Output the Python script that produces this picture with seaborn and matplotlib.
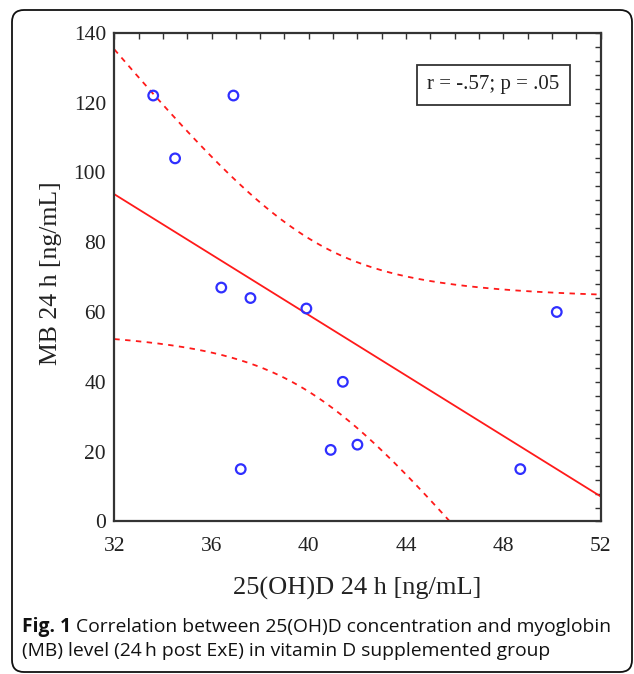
import numpy as np
import pandas as pd
import matplotlib
matplotlib.use("Agg")
import matplotlib.pyplot as plt
import seaborn as sns
from matplotlib.patches import FancyBboxPatch
from matplotlib.ticker import MultipleLocator
from matplotlib.transforms import IdentityTransform

# ---- data ----
vit_d = [33.6, 36.9, 34.5, 36.4, 37.6, 39.9, 41.4, 40.9, 42.0, 37.2, 50.2, 48.7]
mb = [122, 122, 104, 67, 64, 61, 40, 20.5, 22, 15, 60, 15]
x_ticks = [32, 36, 40, 44, 48, 52]
y_ticks = [0, 20, 40, 60, 80, 100, 120, 140]
stat_label = "r = -.57; p = .05"
x_label = "25(OH)D 24 h [ng/mL]"
y_label = "MB 24 h [ng/mL]"
cap_bold = "Fig. 1"
cap_line1 = " Correlation between 25(OH)D concentration and myoglobin"
cap_line2 = "(MB) level (24\u2009h post ExE) in vitamin D supplemented group"
T_CRIT = 2.228  # t(0.975, df=10)

sns.set_theme(style="white")
plt.rcParams["font.family"] = ["Liberation Serif", "DejaVu Serif"]

fig = plt.figure(figsize=(6.34, 6.74), dpi=100)
ax = fig.add_axes([0.1803, 0.2263, 0.7669, 0.7252])

df = pd.DataFrame({"x": vit_d, "y": mb})

# regression line and 95% confidence band of the mean
xa = np.asarray(vit_d, float)
ya = np.asarray(mb, float)
n = len(xa)
slope, intercept = np.polyfit(xa, ya, 1)
resid = ya - (slope * xa + intercept)
s = np.sqrt(np.sum(resid ** 2) / (n - 2))
sxx = np.sum((xa - xa.mean()) ** 2)
xs = np.linspace(x_ticks[0], x_ticks[-1], 300)
fit = slope * xs + intercept
half = T_CRIT * s * np.sqrt(1.0 / n + (xs - xa.mean()) ** 2 / sxx)
lines = pd.DataFrame({"x": xs, "fit": fit, "lo": fit - half, "hi": fit + half})

red = "#ff1a1a"
sns.lineplot(data=lines, x="x", y="fit", ax=ax, color=red, lw=1.3)
sns.lineplot(data=lines, x="x", y="lo", ax=ax, color=red, lw=1.3, linestyle=(0, (3, 3)))
sns.lineplot(data=lines, x="x", y="hi", ax=ax, color=red, lw=1.3, linestyle=(0, (3, 3)))

sns.scatterplot(data=df, x="x", y="y", ax=ax, marker="o", s=48,
                facecolor="none", edgecolor="#2f2fff", linewidth=1.6, zorder=5)

ax.set_xlim(x_ticks[0], x_ticks[-1])
ax.set_ylim(y_ticks[0], y_ticks[-1])
ax.set_xticks(x_ticks)
ax.set_yticks(y_ticks)
ax.xaxis.set_minor_locator(MultipleLocator(1))
ax.yaxis.set_minor_locator(MultipleLocator(4))
ax.tick_params(which="both", direction="in", top=True, right=True,
               color="#333333", width=1.0, labelsize=15.5, labelcolor="#222222")
ax.tick_params(which="both", length=4)
ax.tick_params(axis="y", which="major", pad=6)
ax.tick_params(axis="x", which="major", pad=11)
ax.set_xlabel("")
ax.set_ylabel("")
for sp in ax.spines.values():
    sp.set_color("#333333")
    sp.set_linewidth(1.6)

ax.text(0.779, 0.893, stat_label, transform=ax.transAxes, ha="center", va="center",
        fontsize=15, color="#222222",
        bbox=dict(boxstyle="square,pad=0.5", fc="white", ec="#333333", lw=1.3))

fig.text(0.563, 1 - 588 / 674, x_label, ha="center", va="center", fontsize=19, color="#222222")
fig.text(51 / 634, 1 - 273 / 674, y_label, ha="center", va="center", rotation=90,
         fontsize=18.5, color="#222222")

# caption
cap_font = ["Open Sans", "DejaVu Sans"]
cap_size = 13.9
t_bold = fig.text(0.0347, 1 - 627 / 674, cap_bold, ha="left", va="center", fontsize=cap_size,
                  fontweight="bold", family=cap_font, color="#111111")
fig.canvas.draw()
bb = t_bold.get_window_extent(fig.canvas.get_renderer())
x_after = bb.x1 / fig.bbox.width
fig.text(x_after, 1 - 627 / 674, cap_line1, ha="left", va="center", fontsize=cap_size,
         family=cap_font, color="#111111")
fig.text(0.0347, 1 - 651 / 674, cap_line2, ha="left", va="center", fontsize=cap_size,
         family=cap_font, color="#111111")

# rounded frame around the figure
W, H = fig.bbox.width, fig.bbox.height
frame = FancyBboxPatch((12, 2), 620, H - 12, boxstyle="round,pad=0,rounding_size=12",
                       transform=IdentityTransform(), fc="none", ec="#111111", lw=1.3)
fig.add_artist(frame)

fig.savefig("out.png", dpi=100)
